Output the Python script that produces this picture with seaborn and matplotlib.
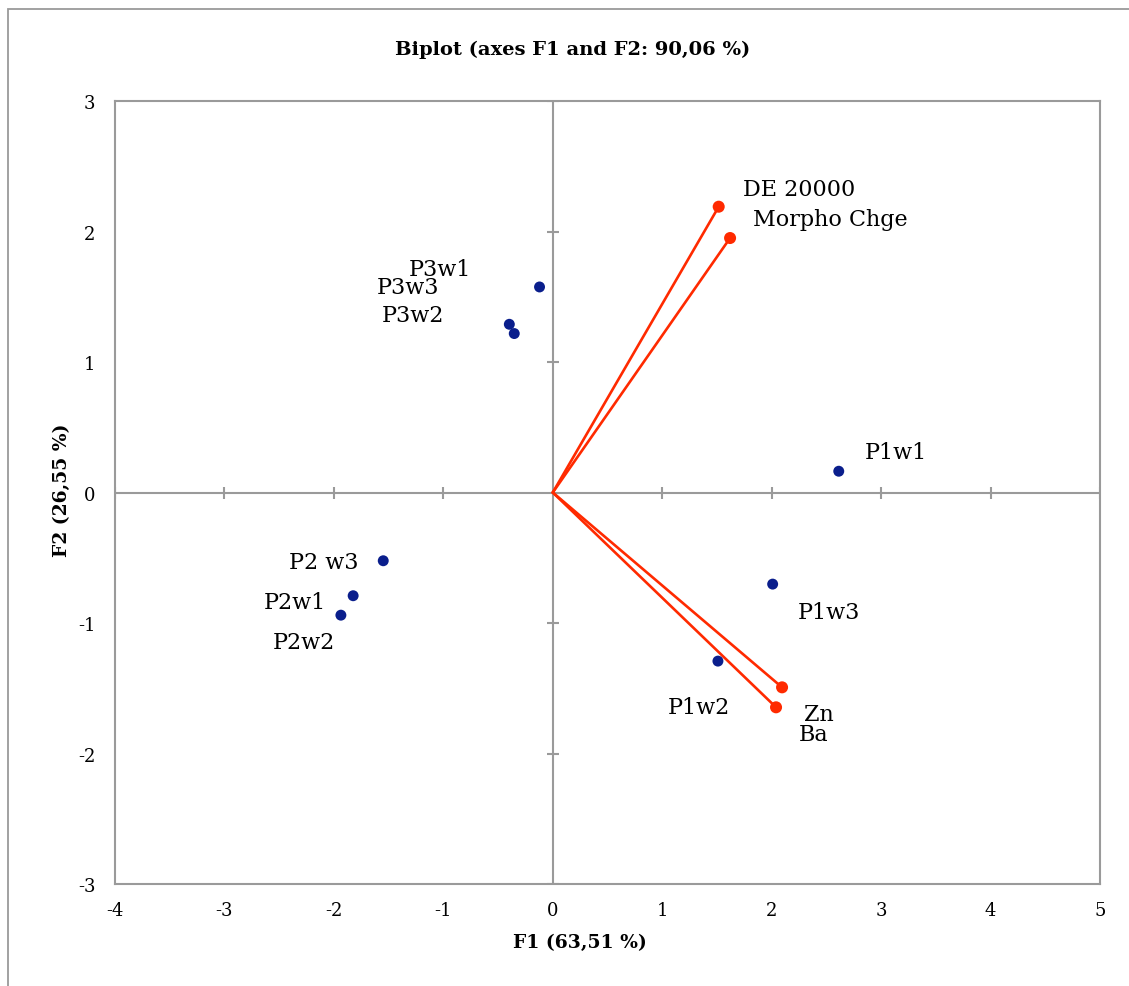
import matplotlib
matplotlib.use("Agg")
import matplotlib.pyplot as plt
import seaborn as sns
import pandas as pd
from matplotlib.patches import Rectangle

# observations (blue dots)
obs_names = ["P1w1", "P1w3", "P1w2", "P2 w3", "P2w1", "P2w2", "P3w1", "P3w3", "P3w2"]
obs_f1 = [2.613, 2.009, 1.509, -1.549, -1.824, -1.936, -0.121, -0.397, -0.352]
obs_f2 = [0.163, -0.702, -1.292, -0.523, -0.791, -0.940, 1.575, 1.289, 1.218]

# variables (red vectors)
var_names = ["DE 20000", "Morpho Chge", "Zn", "Ba"]
var_f1 = [1.516, 1.620, 2.095, 2.040]
var_f2 = [2.190, 1.950, -1.493, -1.646]

xticks = list(range(-4, 6))
yticks = list(range(-3, 4))

title = "Biplot (axes F1 and F2: 90,06 %)"
xlab = "F1 (63,51 %)"
ylab = "F2 (26,55 %)"

# label placement, in pixels from the point (dx, dy up, alignment)
label_pos = {
    "DE 20000": (24, 12, "left"),
    "Morpho Chge": (23, 13, "left"),
    "P1w1": (26, 13, "left"),
    "P1w3": (25, -34, "left"),
    "P1w2": (-19, -52, "center"),
    "Zn": (37, -33, "center"),
    "Ba": (38, -33, "center"),
    "P3w1": (-100, 12, "center"),
    "P3w3": (-101, 31, "center"),
    "P3w2": (-101, 13, "center"),
    "P2 w3": (-25, -7, "right"),
    "P2w1": (-27, -12, "right"),
    "P2w2": (-37, -33, "center"),
}

obs = pd.DataFrame({"name": obs_names, "F1": obs_f1, "F2": obs_f2})
var = pd.DataFrame({"name": var_names, "F1": var_f1, "F2": var_f2})

sns.set_theme(style="white")
plt.rcParams["font.family"] = ["DejaVu Serif"]
plt.rcParams["axes.unicode_minus"] = False
plt.rcParams["text.color"] = "black"
plt.rcParams["xtick.color"] = "black"
plt.rcParams["ytick.color"] = "black"

GREY = "#9a9a9a"
BLUE = "#0a1e8c"
RED = "#ff2a00"

W, H = 1129, 987
fig = plt.figure(figsize=(W / 100, H / 100), dpi=100)
ax = fig.add_axes([115 / W, 1 - 885 / H, 985 / W, 783 / H])

ax.axhline(0, color=GREY, lw=1.5, zorder=1)
ax.axvline(0, color=GREY, lw=1.5, zorder=1)
tx = [t for t in xticks if t != 0]
ty = [t for t in yticks if t != 0]
ax.plot(tx, [0] * len(tx), ls="none", marker="|", ms=8, mew=1.5, color=GREY, zorder=1)
ax.plot([0] * len(ty), ty, ls="none", marker="_", ms=8, mew=1.5, color=GREY, zorder=1)

for x, y in zip(var_f1, var_f2):
    ax.plot([0, x], [0, y], color=RED, lw=1.9, zorder=2, solid_capstyle="round")

sns.scatterplot(data=var, x="F1", y="F2", color=RED, s=75, edgecolor="none", ax=ax, zorder=3)
sns.scatterplot(data=obs, x="F1", y="F2", color=BLUE, s=62, edgecolor="none", ax=ax, zorder=3)

for df in (obs, var):
    for _, r in df.iterrows():
        dx, dy, ha = label_pos[r["name"]]
        ax.annotate(r["name"], (r["F1"], r["F2"]), xytext=(dx, dy),
                    textcoords="offset pixels", ha=ha, va="baseline",
                    fontsize=16, color="black")

ax.set_xlim(-4, 5)
ax.set_ylim(-3, 3)
ax.set_xticks(xticks)
ax.set_yticks(yticks)
ax.tick_params(length=0, labelsize=13, labelcolor="black")
ax.tick_params(axis="x", pad=12)
ax.tick_params(axis="y", pad=14)
ax.set_xlabel("")
ax.set_ylabel("")
for s in ax.spines.values():
    s.set_color(GREY)
    s.set_linewidth(1.5)
    s.set_visible(True)

fig.text(573 / W, 1 - 50 / H, title, ha="center", va="center", fontsize=14, weight="bold")
fig.text(580 / W, 1 - 943 / H, xlab, ha="center", va="center", fontsize=13.5, weight="bold")
fig.text(62 / W, 1 - 490 / H, ylab, ha="center", va="center", fontsize=13.5, weight="bold", rotation=90)

fig.add_artist(Rectangle((8 / W, -0.1), 1.2, 1.1 - 10 / H, transform=fig.transFigure,
                         fill=False, ec=GREY, lw=1.3))

fig.savefig("out.png", dpi=100)
